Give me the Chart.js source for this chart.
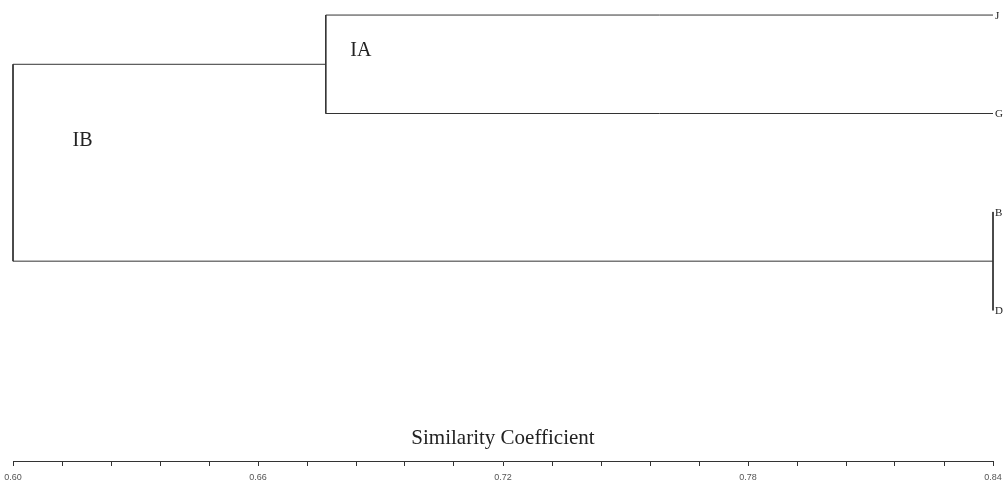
<!DOCTYPE html>
<html>
<head>
<meta charset="utf-8">
<script src="https://cdn.jsdelivr.net/npm/chart.js@4.4.1/dist/chart.umd.min.js"></script>
<style>
    html, body { margin: 0; padding: 0; background: #fff; }
    #wrap { width: 1003px; height: 483px; }
</style>
</head>
<body>
<div id="wrap"><canvas id="dendro"></canvas></div>
<script>
// Leaves, top to bottom
const leafLabels = ['J', 'G', 'B', 'D'];
const leafValue = 0.84;

// Merges: [left node, right node, similarity]; nodes 0..3 are leaves, 4.. are merges
const mergeLeft = [0, 2, 4];
const mergeRight = [1, 3, 5];
const mergeHeight = [0.6766, 0.84, 0.60];

// Cluster names placed near their branches (similarity, leaf position)
const clusterNames = ['IA', 'IB'];
const clusterX = [0.6826, 0.6146];
const clusterY = [0.36, 1.28];

// Axis ticks
const axisMin = 0.60;
const axisMax = 0.84;
const axisStep = 0.012;
const axisTitle = 'Similarity Coefficient';

/**
 * Build the line segments of the dendrogram from the merge list
 */
function buildSegments() {
    const nodeX = leafLabels.map(() => leafValue);
    const nodeY = leafLabels.map((_, i) => i);
    const segments = [];
    for (let i = 0; i < mergeHeight.length; i++) {
        const a = mergeLeft[i], b = mergeRight[i], h = mergeHeight[i];
        segments.push([
            { x: nodeX[a], y: nodeY[a] },
            { x: h, y: nodeY[a] },
            { x: h, y: nodeY[b] },
            { x: nodeX[b], y: nodeY[b] }
        ]);
        nodeX.push(h);
        nodeY.push((nodeY[a] + nodeY[b]) / 2);
    }
    return segments;
}

// Draws leaf names, cluster names and the axis title
const textPlugin = {
    id: 'dendroText',
    afterDatasetsDraw(chart) {
        const ctx = chart.ctx;
        const xs = chart.scales.x, ys = chart.scales.y;
        ctx.save();
        ctx.fillStyle = '#222';
        ctx.textBaseline = 'middle';

        ctx.font = '11px "Liberation Serif", serif';
        ctx.textAlign = 'left';
        leafLabels.forEach((name, i) => {
            ctx.fillText(name, xs.getPixelForValue(leafValue) + 2, ys.getPixelForValue(i) + 1);
        });

        ctx.font = '20px "Liberation Serif", serif';
        clusterNames.forEach((name, i) => {
            ctx.fillText(name, xs.getPixelForValue(clusterX[i]), ys.getPixelForValue(clusterY[i]));
        });

        ctx.font = '21px "Liberation Serif", serif';
        ctx.textAlign = 'center';
        ctx.fillText(axisTitle, (chart.chartArea.left + chart.chartArea.right) / 2, chart.chartArea.bottom - 23);
        ctx.restore();
    }
};

const datasets = buildSegments().map(points => ({
    data: points,
    showLine: true,
    borderColor: '#333',
    borderWidth: 1,
    pointRadius: 0,
    tension: 0,
    clip: false
}));

new Chart(document.getElementById('dendro'), {
    type: 'scatter',
    data: { datasets: datasets },
    options: {
        responsive: true,
        maintainAspectRatio: false,
        animation: false,
        layout: { padding: { left: 13, right: 10, top: 0, bottom: 0 } },
        plugins: {
            legend: { display: false },
            tooltip: { enabled: false }
        },
        scales: {
            x: {
                type: 'linear',
                min: axisMin,
                max: axisMax,
                grid: { drawOnChartArea: false, drawTicks: true, tickLength: 5, color: '#333' },
                border: { display: true, color: '#333', width: 1 },
                afterFit: function(scale) {
                    // let the end labels hang past the plot edges
                    scale.paddingLeft = 0;
                    scale.paddingRight = 0;
                    scale.height = 22;
                },
                ticks: {
                    stepSize: axisStep,
                    autoSkip: false,
                    maxRotation: 0,
                    padding: 6,
                    color: '#555',
                    font: { family: '"Liberation Sans", sans-serif', size: 9 },
                    callback: function(value, index) {
                        return index % 5 === 0 ? value.toFixed(2) : '';
                    }
                }
            },
            y: {
                type: 'linear',
                display: false,
                reverse: true,
                min: -0.153,
                max: 4.53
            }
        }
    },
    plugins: [textPlugin]
});
</script>
</body>
</html>
